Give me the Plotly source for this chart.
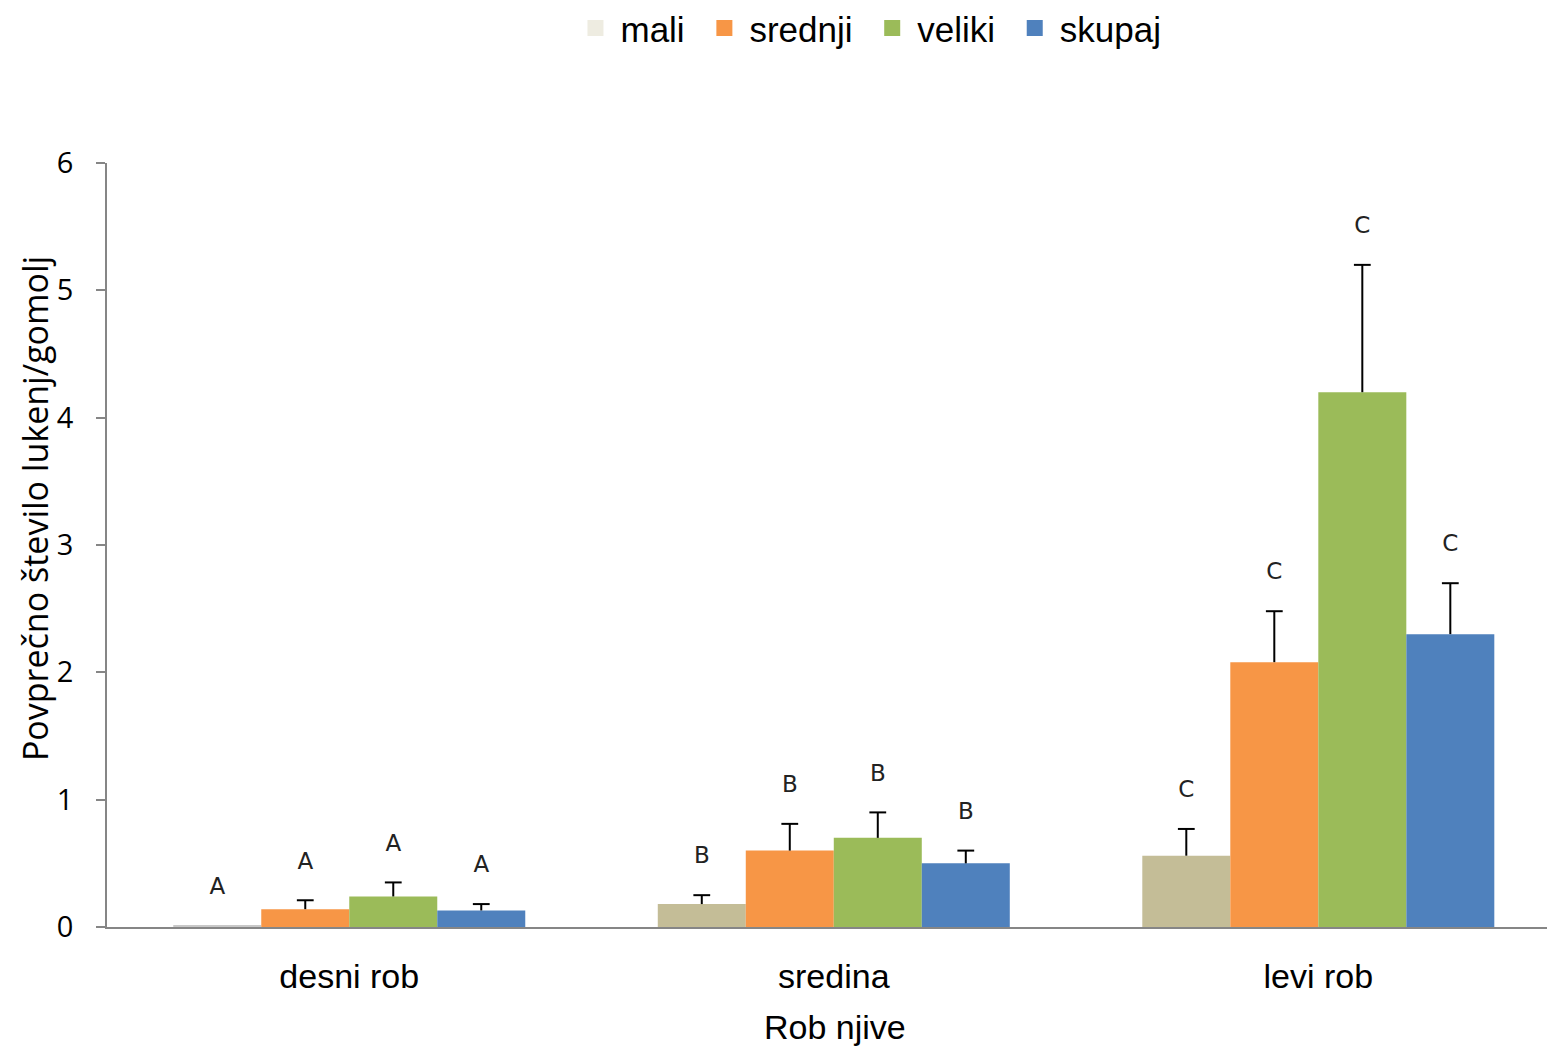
import plotly.graph_objects as go

categories = ["desni rob", "sredina", "levi rob"]
series_names = ["mali", "srednji", "veliki", "skupaj"]

mali = [0.01, 0.18, 0.56]
srednji = [0.14, 0.60, 2.08]
veliki = [0.24, 0.70, 4.20]
skupaj = [0.13, 0.50, 2.30]

mali_err = [0.0, 0.07, 0.21]
srednji_err = [0.07, 0.21, 0.40]
veliki_err = [0.11, 0.20, 1.00]
skupaj_err = [0.05, 0.10, 0.40]

mali_letters = ["A", "B", "C"]
srednji_letters = ["A", "B", "C"]
veliki_letters = ["A", "B", "C"]
skupaj_letters = ["A", "B", "C"]

values = [mali, srednji, veliki, skupaj]
errors = [mali_err, srednji_err, veliki_err, skupaj_err]
letters = [mali_letters, srednji_letters, veliki_letters, skupaj_letters]
bar_colors = [["#C8C8C8", "#C4BD97", "#C4BD97"], "#F79646", "#9BBB59", "#4F81BD"]
legend_colors = ["#EEECE1", "#F79646", "#9BBB59", "#4F81BD"]
legend_labels = ["mali ", "srednji ", "veliki ", "skupaj"]

fig = go.Figure()
for name, v, e, c in zip(series_names, values, errors, bar_colors):
    fig.add_trace(go.Bar(
        name=name, x=categories, y=v, offsetgroup=name, alignmentgroup="g",
        marker=dict(color=c, line=dict(width=0)), showlegend=False,
        error_y=dict(type="data", array=e, symmetric=False, arrayminus=[0]*len(e),
                     color="black", thickness=2, width=0, visible=True),
    ))

# caps at the end of the error bars
for name, v, e in zip(series_names, values, errors):
    tops = [a + b for a, b in zip(v, e)]
    fig.add_trace(go.Scatter(
        x=categories, y=tops, mode="markers", offsetgroup=name, alignmentgroup="g",
        marker=dict(symbol="line-ew", size=12, line=dict(color="black", width=2),
                    opacity=[0 if err == 0 else 1 for err in e]),
        showlegend=False, hoverinfo="skip", cliponaxis=False,
    ))

# significance letters above the error bars
for name, v, e, t in zip(series_names, values, errors, letters):
    tops = [a + b for a, b in zip(v, e)]
    fig.add_trace(go.Scatter(
        x=categories, y=tops, mode="markers+text", text=t,
        textposition="top center", offsetgroup=name, alignmentgroup="g",
        marker=dict(symbol="circle", size=40, color="rgba(0,0,0,0)"),
        textfont=dict(family="DejaVu Sans", size=23, color="#222222"),
        showlegend=False, hoverinfo="skip", cliponaxis=False,
    ))

# legend entries with large square swatches
for name, lab, c in zip(series_names, legend_labels, legend_colors):
    fig.add_trace(go.Scatter(
        x=[None], y=[None], mode="markers", name=lab,
        offsetgroup=name, alignmentgroup="g",
        marker=dict(symbol="square", size=19, color=c),
    ))

fig.update_layout(
    width=1547, height=1048,
    paper_bgcolor="white", plot_bgcolor="white",
    margin=dict(l=107, r=0, t=163, b=121),
    barmode="group", scattermode="group", bargap=0.2735, bargroupgap=0, scattergap=0.2735,
    font=dict(family="Liberation Sans", color="black"),
    legend=dict(orientation="h", x=0.5288, xanchor="center", yref="container", y=0.973, yanchor="middle",
                font=dict(family="Liberation Sans", size=35, color="black"),
                itemwidth=40, tracegroupgap=0, itemsizing="trace"),
    yaxis=dict(range=[0, 6], dtick=1, showgrid=False, zeroline=False,
               showline=True, linecolor="#868686", linewidth=1.5,
               ticks="outside", ticklen=9, tickcolor="#868686", tickwidth=1.5,
               tickfont=dict(family="Open Sans", size=29, color="black"),
               ticklabelstandoff=17),
    xaxis=dict(range=[-0.5, 2.472], showgrid=False, showline=True, linecolor="#868686", linewidth=2,
               ticks="", tickfont=dict(family="Liberation Sans", size=34, color="black"),
               ticklabelstandoff=18),
    annotations=[
        dict(text="Povprečno število lukenj/gomolj", textangle=-90,
             xref="paper", yref="paper", x=-0.05, y=0.547,
             xanchor="center", yanchor="middle", showarrow=False,
             font=dict(family="Open Sans", size=34, color="black")),
        dict(text="Rob njive", xref="paper", yref="paper", x=0.5056, y=-0.131,
             xanchor="center", yanchor="middle", showarrow=False,
             font=dict(family="Liberation Sans", size=34, color="black")),
    ],
)

fig.write_html("out.html", config={"displayModeBar": False},
               post_script="document.body.style.margin='0';document.body.style.overflow='hidden';")
